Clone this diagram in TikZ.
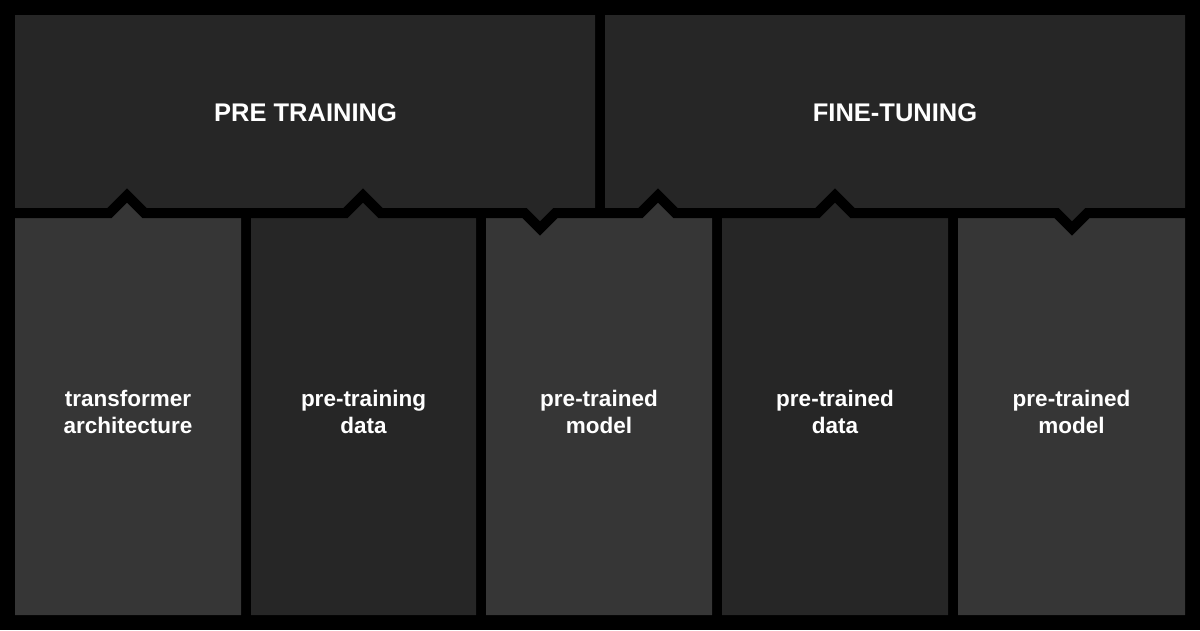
\documentclass[tikz,border=0pt]{standalone}
\usepackage{fontspec}
\setmainfont{Liberation Sans}
\definecolor{bgc}{HTML}{000000}
\definecolor{darkc}{HTML}{262626}
\definecolor{lightc}{HTML}{363636}
\begin{document}
\begin{tikzpicture}[x=1pt,y=-1pt,
  panel/.style={fill=darkc},
  coldark/.style={fill=darkc},
  collight/.style={fill=lightc},
  sep/.style={draw=bgc,line width=10pt,miter limit=10},
  title/.style={text=white,font=\fontsize{25.5}{28}\selectfont\bfseries,inner sep=0pt},
  label/.style={text=white,font=\fontsize{22.5}{27}\selectfont\bfseries,align=center,inner sep=0pt}]
\useasboundingbox (0,0) rectangle (1200,630);
\fill[bgc] (0,0) rectangle (1200,630);
% top panels
\path[panel] (15,15) -- (595,15) -- (595,213) -- (555.5,213) -- (540,228.5) -- (524.5,213)
  -- (380.5,213) -- (363,195.5) -- (345.5,213) -- (144.5,213) -- (127,195.5) -- (109.5,213)
  -- (15,213) -- cycle;
\path[panel] (605,15) -- (1185,15) -- (1185,213) -- (1087.5,213) -- (1072,228.5) -- (1056.5,213)
  -- (852.5,213) -- (835,195.5) -- (817.5,213) -- (675.5,213) -- (658,195.5) -- (640.5,213)
  -- (605,213) -- cycle;
% columns
\path[collight] (15,615) -- (15,213) -- (109.5,213) -- (127,195.5) -- (144.5,213) -- (241,213) -- (241,615) -- cycle;
\path[coldark] (251,615) -- (251,213) -- (345.5,213) -- (363,195.5) -- (380.5,213) -- (476,213) -- (476,615) -- cycle;
\path[collight] (486,615) -- (486,213) -- (524.5,213) -- (540,228.5) -- (555.5,213) -- (640.5,213) -- (658,195.5) -- (675.5,213) -- (712,213) -- (712,615) -- cycle;
\path[coldark] (722,615) -- (722,213) -- (817.5,213) -- (835,195.5) -- (852.5,213) -- (948,213) -- (948,615) -- cycle;
\path[collight] (958,615) -- (958,213) -- (1056.5,213) -- (1072,228.5) -- (1087.5,213) -- (1185,213) -- (1185,615) -- cycle;
% separator
\draw[sep] (10,213) -- (109.5,213) -- (127,195.5) -- (144.5,213) -- (345.5,213) -- (363,195.5) -- (380.5,213)
  -- (524.5,213) -- (540,228.5) -- (555.5,213) -- (640.5,213) -- (658,195.5) -- (675.5,213)
  -- (817.5,213) -- (835,195.5) -- (852.5,213) -- (1056.5,213) -- (1072,228.5) -- (1087.5,213) -- (1190,213);
% texts
\node[title] (pre) at (305.5,113) {PRE TRAINING};
\node[title] (fine) at (895,113) {FINE-TUNING};
\node[label] (c1) at (128,412) {transformer\\architecture};
\node[label] (c2) at (363.5,412) {pre-training\\data};
\node[label] (c3) at (599,412) {pre-trained\\model};
\node[label] (c4) at (835,412) {pre-trained\\data};
\node[label] (c5) at (1071.5,412) {pre-trained\\model};
\end{tikzpicture}
\end{document}
